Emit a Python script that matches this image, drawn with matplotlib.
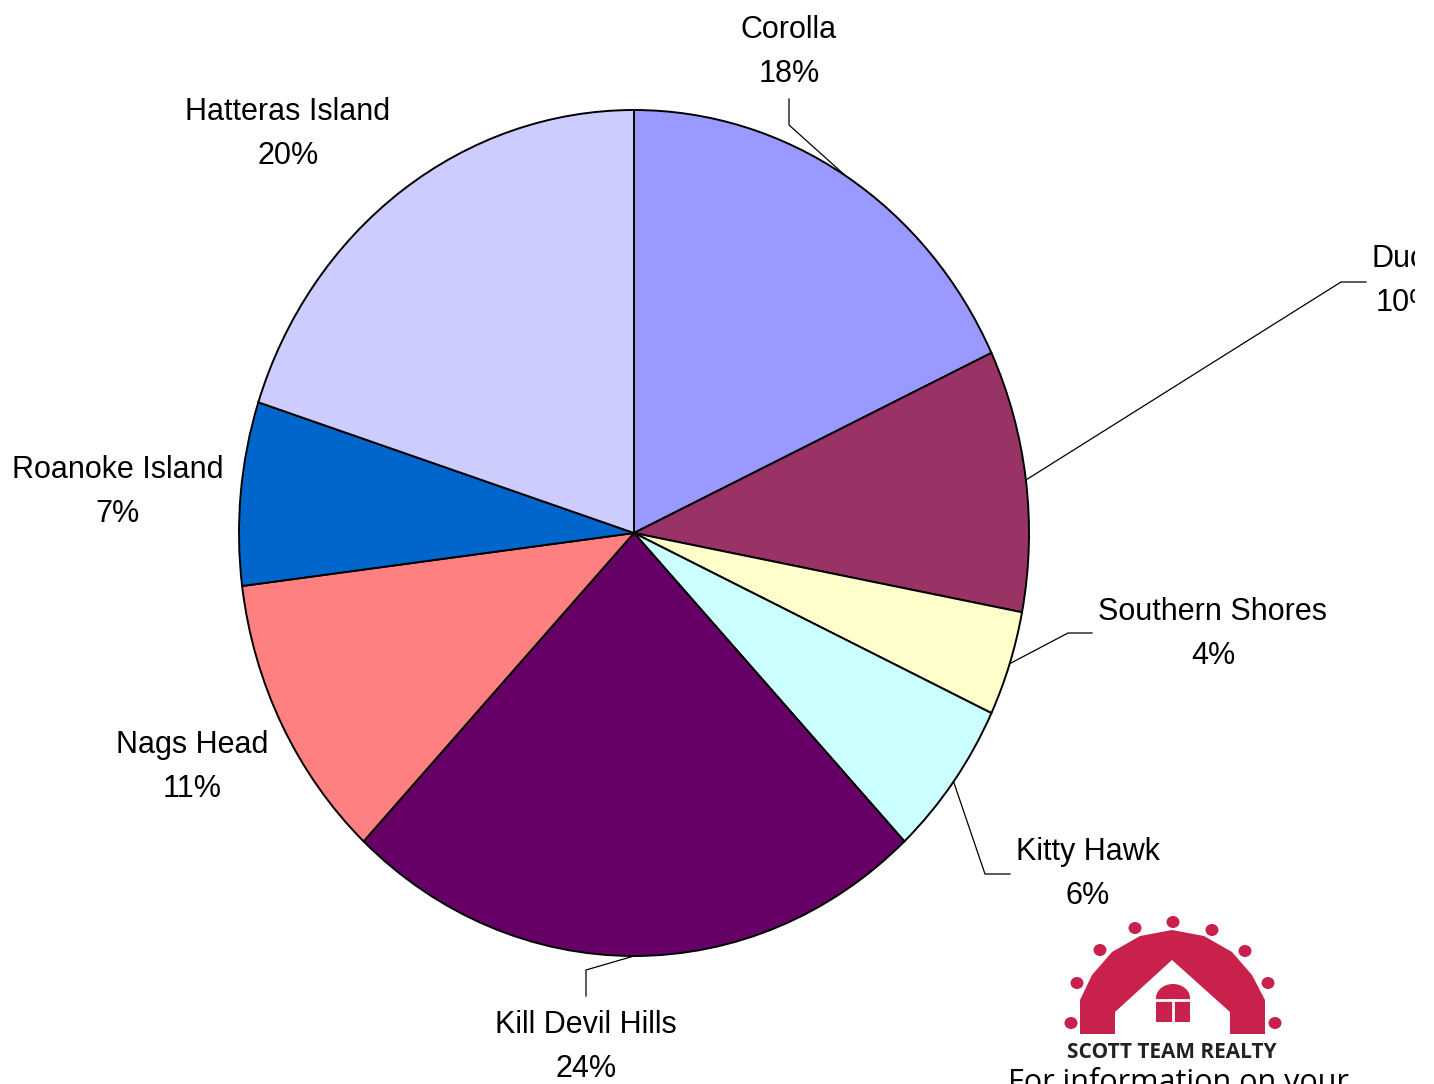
import matplotlib.pyplot as plt
import numpy as np
from matplotlib.patches import Polygon, Rectangle, Ellipse

# data: share of listings by area, clockwise from 12 o'clock
areas = ["Corolla", "Duck", "Southern Shores", "Kitty Hawk",
         "Kill Devil Hills", "Nags Head", "Roanoke Island", "Hatteras Island"]
shares = [18, 10, 4, 6, 24, 11, 7, 20]
colors = ["#9999FF", "#993366", "#FFFFCC", "#CCFFFF",
          "#660066", "#FF8080", "#0066CC", "#CCCCFF"]

W, H = 1434, 1084
CX, CY, RX, RY = 634, 533, 395, 423   # pie centre / radii in pixels
RIGHT = 1415                           # plot area border


def px(x, y):
    """pixel position -> data coords (pie has radius 1)"""
    return (x - CX) / RX, (CY - y) / RY


# label centres (pixels) and elbow points of the leader lines
label_pos = {
    "Corolla": (789, 52), "Duck": (1406, 281), "Southern Shores": (1213, 634),
    "Kitty Hawk": (1088, 874), "Kill Devil Hills": (586, 1047),
    "Nags Head": (192, 767), "Roanoke Island": (118, 492),
    "Hatteras Island": (288, 134),
}
leaders = {
    "Corolla": [(789, 125), (789, 99)],
    "Duck": [(1341, 282), (1366, 282)],
    "Southern Shores": [(1068, 633), (1092, 633)],
    "Kitty Hawk": [(985, 874), (1010, 874)],
    "Kill Devil Hills": [(586, 970), (586, 996)],
}

plt.rcParams['font.family'] = ['Liberation Sans', 'DejaVu Sans']
fig = plt.figure(figsize=(W / 100, H / 100), dpi=100)
ax = fig.add_axes([0, 0, RIGHT / W, 1])

wedges, _ = ax.pie(shares, colors=colors, startangle=90, counterclock=False,
                   radius=1, center=(0, 0),
                   wedgeprops=dict(edgecolor="black", linewidth=1.4))
ax.set_aspect('auto')
x0, y1 = px(0, 0)
x1, y0 = px(RIGHT, H)
ax.set_xlim(x0, x1)
ax.set_ylim(y0, y1)
ax.set_xticks([])
ax.set_yticks([])
for s in ["top", "left", "bottom"]:
    ax.spines[s].set_visible(False)
ax.spines["right"].set_linewidth(1.3)

for w, name, val in zip(wedges, areas, shares):
    lx, ly = px(*label_pos[name])
    ax.text(lx, ly, f"{name}\n{val}%", ha="center", va="center",
            fontsize=22, linespacing=1.6, clip_on=True)
    if name in leaders:
        mid = np.deg2rad((w.theta1 + w.theta2) / 2)
        pts = [(np.cos(mid), np.sin(mid))] + [px(*p) for p in leaders[name]]
        xs, ys = zip(*pts)
        ax.plot(xs, ys, color="black", lw=0.9)

# logo (rough sketch of the Scott Team Realty mark)
red = "#C8214C"
outer = [(1080, 1034), (1080, 1000), (1092, 975), (1112, 952), (1140, 936),
         (1172, 930), (1204, 936), (1232, 952), (1252, 975), (1265, 1000),
         (1265, 1034), (1230, 1034), (1230, 1012), (1172, 960), (1115, 1012),
         (1115, 1034)]
ax.add_patch(Polygon([px(*p) for p in outer], closed=True, fc=red, ec="none"))
heads = [(1173, 922), (1135, 928), (1212, 930), (1100, 950), (1245, 951),
         (1077, 983), (1268, 983), (1071, 1023), (1275, 1023)]
for hx, hy in heads:
    ax.add_patch(Ellipse(px(hx, hy), 13 / RX, 12 / RY, fc=red, ec="none"))
# window
wx0, wy0 = px(1156, 1022)
wx1, wy1 = px(1190, 998)
ax.add_patch(Rectangle((wx0, wy0), wx1 - wx0, wy1 - wy0, fc=red, ec="none"))
ax.add_patch(Ellipse(px(1173, 998), 34 / RX, 28 / RY, fc=red, ec="none"))
ax.plot([px(1156, 1000)[0], px(1190, 1000)[0]],
        [px(1156, 1000)[1], px(1190, 1000)[1]], color="white", lw=2)
ax.plot([px(1173, 1000)[0]] * 2, [px(1173, 1000)[1], px(1173, 1022)[1]],
        color="white", lw=2)

tx, ty = px(1172, 1052)
ax.text(tx, ty, "SCOTT TEAM REALTY", ha="center", va="center", fontsize=15,
        fontweight="bold", family=["Open Sans", "DejaVu Sans"], color="#222222")
tx, ty = px(1178, 1067)
ax.text(tx, ty, "For information on your", ha="center", va="top", fontsize=22,
        family=["Open Sans", "DejaVu Sans"], clip_on=True)

fig.savefig("out.png", dpi=100)
